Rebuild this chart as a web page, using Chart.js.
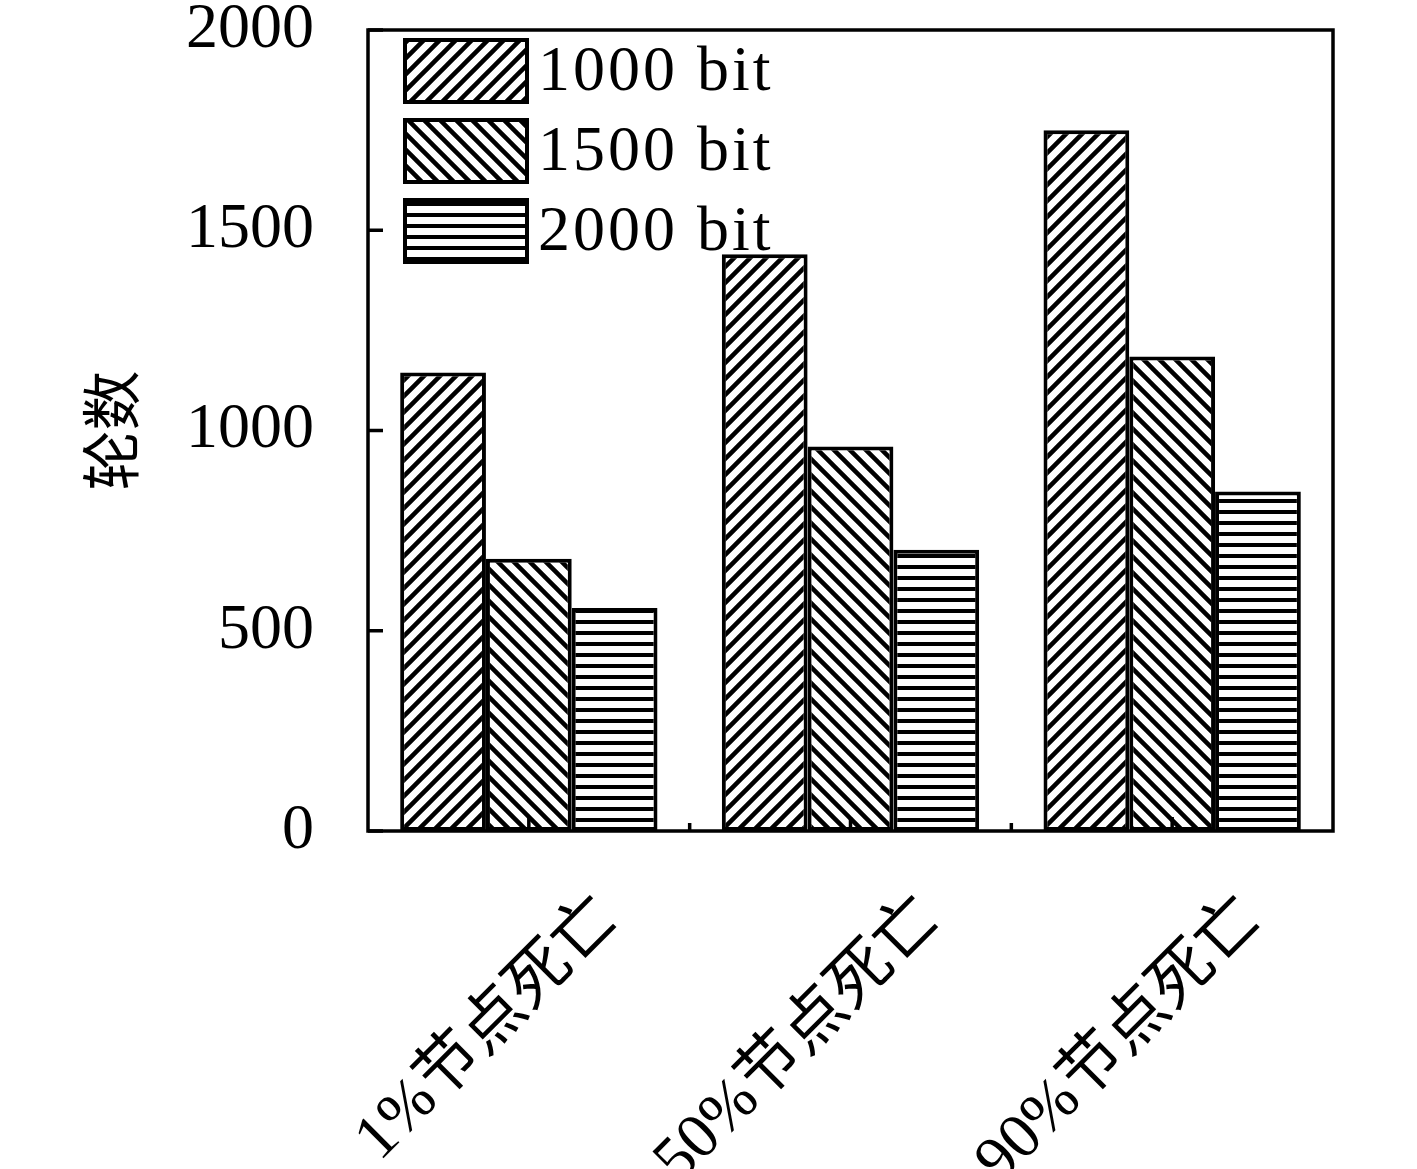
<!DOCTYPE html>
<html>
<head>
<meta charset="utf-8">
<script src="https://cdn.jsdelivr.net/npm/chart.js@4/dist/chart.umd.min.js"></script>
<style>
  html, body { margin: 0; padding: 0; background: #fff; }
  #wrap { width: 1417px; height: 1169px; }
</style>
</head>
<body>
<div id="wrap"><canvas id="myChart" width="1417" height="1169"></canvas></div>
<script>
// data
const categories = ["1%节点死亡", "50%节点死亡", "90%节点死亡"];
const seriesNames = ["1000 bit", "1500 bit", "2000 bit"];
const bits1000 = [1145, 1440, 1750];
const bits1500 = [680, 960, 1185];
const bits2000 = [557, 702, 848];
const yTicks = [0, 500, 1000, 1500, 2000];

const serif = '"Liberation Serif", "Noto Sans CJK SC", serif';

// hatch patterns (lines run past the tile so the seams join up)
function makePattern(kind) {
    const c = document.createElement("canvas");
    const s = kind === "h" ? 11 : 16;
    c.width = s;
    c.height = s;
    const g = c.getContext("2d");
    g.fillStyle = "#fff";
    g.fillRect(0, 0, s, s);
    g.fillStyle = "#000";
    if (kind === "h") {
        g.fillRect(0, 4, s, 4);
        return g.createPattern(c, "repeat");
    }
    g.strokeStyle = "#000";
    g.lineWidth = 4.5;
    g.beginPath();
    for (let k = -2; k <= 2; k++) {
        const off = k * s;
        if (kind === "/") {
            // x + y = off
            g.moveTo(off - 2 * s, 2 * s);
            g.lineTo(off + 2 * s, -2 * s);
        } else {
            // x - y = off
            g.moveTo(off - 2 * s, -2 * s);
            g.lineTo(off + 2 * s, 2 * s);
        }
    }
    g.stroke();
    return g.createPattern(c, "repeat");
}

const patterns = [makePattern("/"), makePattern("\\"), makePattern("h")];

const framePlugin = {
    id: "frame",
    afterDatasetsDraw(chart) {
        const ctx = chart.ctx;
        const a = chart.chartArea;
        const x = chart.scales.x;
        const y = chart.scales.y;
        ctx.save();
        ctx.strokeStyle = "#000";
        ctx.lineWidth = 3.5;
        ctx.strokeRect(a.left, a.top, a.right - a.left, a.bottom - a.top);

        // y ticks pointing inward
        ctx.beginPath();
        yTicks.forEach((v) => {
            const py = y.getPixelForValue(v);
            ctx.moveTo(a.left, py);
            ctx.lineTo(a.left + 15, py);
        });
        // x ticks: centres and boundaries
        categories.forEach((c, i) => {
            const px = x.getPixelForValue(i);
            ctx.moveTo(px, a.bottom);
            ctx.lineTo(px, a.bottom - 14);
            if (i > 0) {
                const bx = (px + x.getPixelForValue(i - 1)) / 2;
                ctx.moveTo(bx, a.bottom);
                ctx.lineTo(bx, a.bottom - 8);
            }
        });
        ctx.stroke();

        // rotated category labels
        ctx.fillStyle = "#000";
        ctx.font = "64px " + serif;
        ctx.textAlign = "right";
        ctx.textBaseline = "middle";
        categories.forEach((c, i) => {
            const px = x.getPixelForValue(i);
            ctx.save();
            ctx.translate(px + 80, a.bottom + 78);
            ctx.rotate(-Math.PI / 4);
            ctx.fillText(c, 0, 0);
            ctx.restore();
        });

        // legend inside the plot
        ctx.font = "64px " + serif;
        ctx.textAlign = "left";
        ctx.lineWidth = 4;
        chart.data.datasets.forEach((ds, i) => {
            const top = a.top + 10 + i * 80;
            ctx.fillStyle = ds.backgroundColor;
            ctx.fillRect(a.left + 37, top, 122, 62);
            ctx.strokeRect(a.left + 37, top, 122, 62);
            ctx.fillStyle = "#000";
            ctx.letterSpacing = "3px";
            ctx.fillText(ds.label, a.left + 170, top + 33);
            ctx.letterSpacing = "0px";
        });
        ctx.restore();
    },
};

const ctx = document.getElementById("myChart").getContext("2d");
const myChart = new Chart(ctx, {
    type: "bar",
    data: {
        labels: categories,
        datasets: [bits1000, bits1500, bits2000].map((vals, i) => ({
            label: seriesNames[i],
            data: vals,
            backgroundColor: patterns[i],
            borderColor: "#000",
            borderWidth: 4,
            borderSkipped: false,
            categoryPercentage: 0.8,
            barPercentage: 1.0,
        })),
    },
    options: {
        responsive: false,
        animation: false,
        layout: { padding: { top: 30, right: 84, left: 0, bottom: 0 } },
        plugins: {
            legend: { display: false },
            tooltip: { enabled: false },
        },
        scales: {
            x: {
                grid: { display: false },
                border: { display: false },
                ticks: { display: false },
                afterFit(scale) {
                    scale.height = 338;
                    scale.paddingLeft = 0;
                    scale.paddingRight = 0;
                },
            },
            y: {
                min: 0,
                max: 2000,
                grid: { display: false },
                border: { display: false },
                ticks: {
                    stepSize: 500,
                    padding: 46,
                    color: "#000",
                    font: { family: serif, size: 64 },
                    callback: (v) => String(v),
                },
                title: {
                    display: true,
                    text: "轮数",
                    color: "#000",
                    padding: { top: 82 },
                    font: { family: serif, size: 60 },
                },
                afterFit(scale) {
                    scale.width = 368;
                    scale.paddingTop = 0;
                    scale.paddingBottom = 0;
                },
            },
        },
    },
    plugins: [framePlugin],
});
</script>
</body>
</html>
